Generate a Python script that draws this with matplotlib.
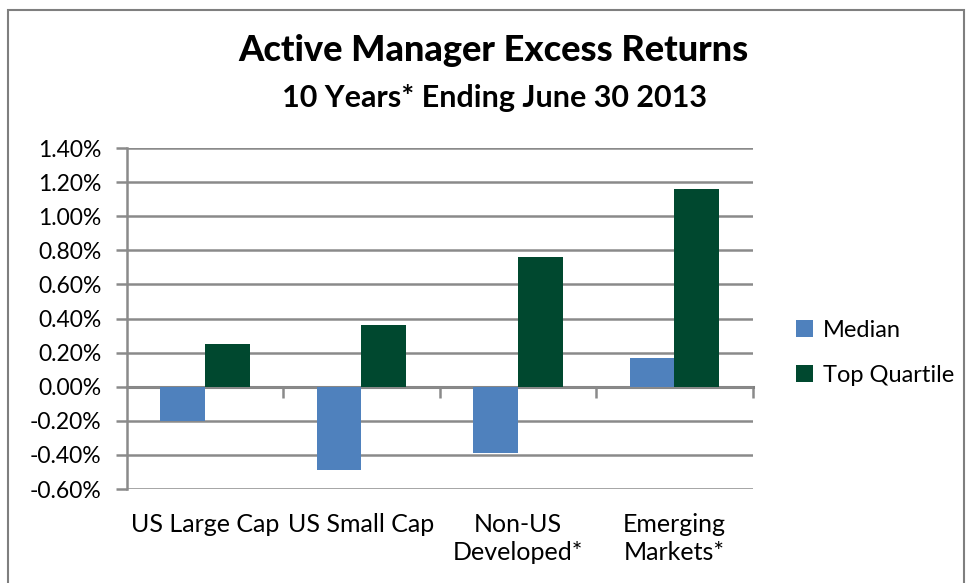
import matplotlib.pyplot as plt
import numpy as np
from matplotlib.patches import Rectangle
from matplotlib.ticker import FuncFormatter

# ----- DATA -----

categories = ["US Large Cap", "US Small Cap", "Non-US\nDeveloped*", "Emerging\nMarkets*"]
median = [-0.20, -0.49, -0.39, 0.17]
top_quartile = [0.25, 0.36, 0.76, 1.16]
y_ticks = [-0.6, -0.4, -0.2, 0.0, 0.2, 0.4, 0.6, 0.8, 1.0, 1.2, 1.4]

# ----- STYLE -----

plt.rcParams["font.family"] = ["Lato", "DejaVu Sans"]
blue = "#4f81bd"
green = "#00482f"
grid_gray = "#8a8a8a"

fig = plt.figure(figsize=(9.69, 5.83), dpi=100)
ax = fig.add_axes([0.1307, 0.1612, 0.6461, 0.5849])

x = np.arange(len(categories))
width = 1 / 3.5
ax.bar(x - width / 2, median, width, color=blue, label="Median", zorder=3)
ax.bar(x + width / 2, top_quartile, width, color=green, label="Top Quartile", zorder=3)

ymin, ymax = y_ticks[0], y_ticks[-1]
ax.set_ylim(ymin, ymax)
ax.set_xlim(-0.5, len(categories) - 0.5)
ax.set_yticks(y_ticks)
ax.yaxis.set_major_formatter(FuncFormatter(lambda v, p: f"{v:.2f}%"))
ax.grid(axis="y", color=grid_gray, linewidth=1.8, zorder=0)

for side in ["top", "right", "bottom"]:
    ax.spines[side].set_visible(False)
ax.spines["left"].set_color(grid_gray)
ax.spines["left"].set_linewidth(1.8)
ax.tick_params(axis="y", direction="out", length=8, width=1.8, color=grid_gray,
               labelsize=16.5, pad=10)

# category labels at the bottom of the plot
ax.set_xticks(x)
ax.set_xticklabels(categories, fontsize=18, linespacing=1.3, va="top")
ax.tick_params(axis="x", length=0, pad=17)

# category axis crossing at zero with ticks between groups
zero_axis = ax.secondary_xaxis((0 - ymin) / (ymax - ymin))
zero_axis.set_xticks(np.arange(len(categories)) + 0.5)
zero_axis.set_xticklabels([])
zero_axis.tick_params(direction="out", length=8, width=1.8, color=grid_gray)
zero_axis.spines["bottom"].set_color("#808080")
zero_axis.spines["bottom"].set_linewidth(2.2)

# ----- TITLE / LEGEND / FRAME -----

fig.text(0.509, 0.913, "Active Manager Excess Returns", ha="center", va="center",
         fontsize=26, fontweight="black")
fig.text(0.510, 0.832, "10 Years* Ending June 30 2013", ha="center", va="center",
         fontsize=22, fontweight="bold")

ax.legend(loc="center left", bbox_to_anchor=(0.812, 0.395), bbox_transform=fig.transFigure,
          frameon=False, fontsize=17, handlelength=0.72, handleheight=0.72,
          handletextpad=0.4, labelspacing=1.0, borderaxespad=0)

fig.patches.append(Rectangle((0.0083, -0.05), 0.987, 1.033, transform=fig.transFigure,
                             fill=False, edgecolor="#7f7f7f", linewidth=1.5))

fig.savefig("out.png", dpi=100)
